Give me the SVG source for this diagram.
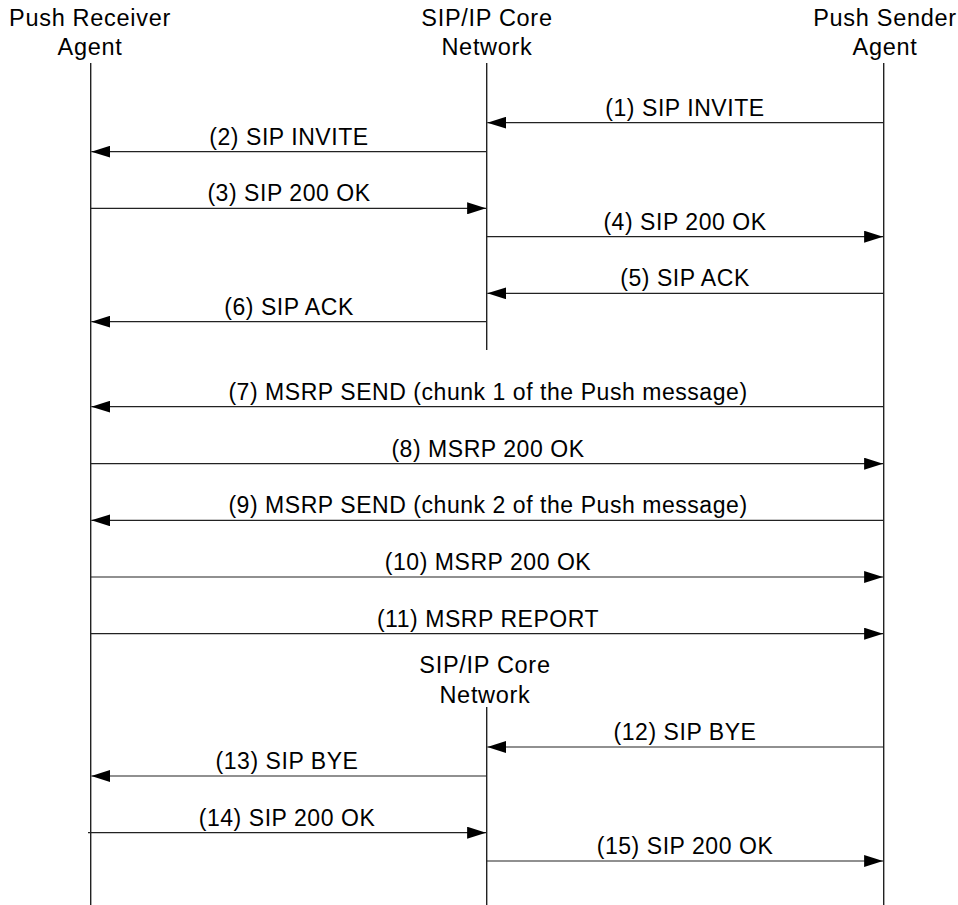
<svg xmlns="http://www.w3.org/2000/svg" width="958" height="905" viewBox="0 0 958 905">
<style>
text{font-family:"Liberation Sans",Arial,sans-serif;font-size:23px;letter-spacing:0.55px;fill:#000;text-anchor:middle}
.hdr{font-size:23.5px;letter-spacing:0.7px}
.life{stroke:#222;stroke-width:1.4;fill:none}
.msg{stroke:#222;stroke-width:1.2;fill:none}
</style>
<defs>
<marker id="ah" viewBox="0 0 19 12" refX="19" refY="6" markerWidth="19" markerHeight="12" markerUnits="userSpaceOnUse" orient="auto">
<path d="M0,0 L19,6 L0,12 Z" fill="#000"/>
</marker>
</defs>
<rect width="958" height="905" fill="#fff"/>
<g id="receiver">
<text class="hdr" x="90" y="26">Push Receiver</text>
<text class="hdr" x="90" y="55">Agent</text>
<line class="life" x1="90.7" y1="63" x2="90.7" y2="905"/>
</g>
<g id="core">
<text class="hdr" x="487" y="26">SIP/IP Core</text>
<text class="hdr" x="487" y="55">Network</text>
<line class="life" x1="486.7" y1="63" x2="486.7" y2="350"/>
</g>
<g id="core2">
<text class="hdr" x="485" y="673">SIP/IP Core</text>
<text class="hdr" x="485" y="703">Network</text>
<line class="life" x1="486.7" y1="707" x2="486.7" y2="905"/>
</g>
<g id="sender">
<text class="hdr" x="885" y="26">Push Sender</text>
<text class="hdr" x="885" y="55">Agent</text>
<line class="life" x1="883.7" y1="63" x2="883.7" y2="905"/>
</g>
<g id="connectors">
<line class="msg" x1="883.7" y1="122.7" x2="487.3" y2="122.7" marker-end="url(#ah)"/>
<text x="685" y="115.7">(1) SIP INVITE</text>
<line class="msg" x1="486.7" y1="151.7" x2="91.3" y2="151.7" marker-end="url(#ah)"/>
<text x="289" y="144.7">(2) SIP INVITE</text>
<line class="msg" x1="90.7" y1="208.3" x2="486.1" y2="208.3" marker-end="url(#ah)"/>
<text x="289" y="201.3">(3) SIP 200 OK</text>
<line class="msg" x1="486.7" y1="236.7" x2="883.1" y2="236.7" marker-end="url(#ah)"/>
<text x="685" y="229.7">(4) SIP 200 OK</text>
<line class="msg" x1="883.7" y1="293.3" x2="487.3" y2="293.3" marker-end="url(#ah)"/>
<text x="685" y="286.3">(5) SIP ACK</text>
<line class="msg" x1="486.7" y1="321.7" x2="91.3" y2="321.7" marker-end="url(#ah)"/>
<text x="289" y="314.7">(6) SIP ACK</text>
<line class="msg" x1="883.7" y1="406.7" x2="91.3" y2="406.7" marker-end="url(#ah)"/>
<text x="488" y="399.7">(7) MSRP SEND (chunk 1 of the Push message)</text>
<line class="msg" x1="90.7" y1="463.7" x2="883.1" y2="463.7" marker-end="url(#ah)"/>
<text x="488" y="456.7">(8) MSRP 200 OK</text>
<line class="msg" x1="883.7" y1="520.3" x2="91.3" y2="520.3" marker-end="url(#ah)"/>
<text x="488" y="513.3">(9) MSRP SEND (chunk 2 of the Push message)</text>
<line class="msg" x1="90.7" y1="577" x2="883.1" y2="577" marker-end="url(#ah)"/>
<text x="488" y="570">(10) MSRP 200 OK</text>
<line class="msg" x1="90.7" y1="633.7" x2="883.1" y2="633.7" marker-end="url(#ah)"/>
<text x="488" y="626.7">(11) MSRP REPORT</text>
<line class="msg" x1="883.7" y1="747" x2="487.3" y2="747" marker-end="url(#ah)"/>
<text x="685" y="740">(12) SIP BYE</text>
<line class="msg" x1="486.7" y1="776" x2="91.3" y2="776" marker-end="url(#ah)"/>
<text x="287" y="769">(13) SIP BYE</text>
<line class="msg" x1="88" y1="832.7" x2="486.1" y2="832.7" marker-end="url(#ah)"/>
<text x="287" y="825.7">(14) SIP 200 OK</text>
<line class="msg" x1="486.7" y1="861" x2="883.1" y2="861" marker-end="url(#ah)"/>
<text x="685" y="854">(15) SIP 200 OK</text>
</g>
</svg>
